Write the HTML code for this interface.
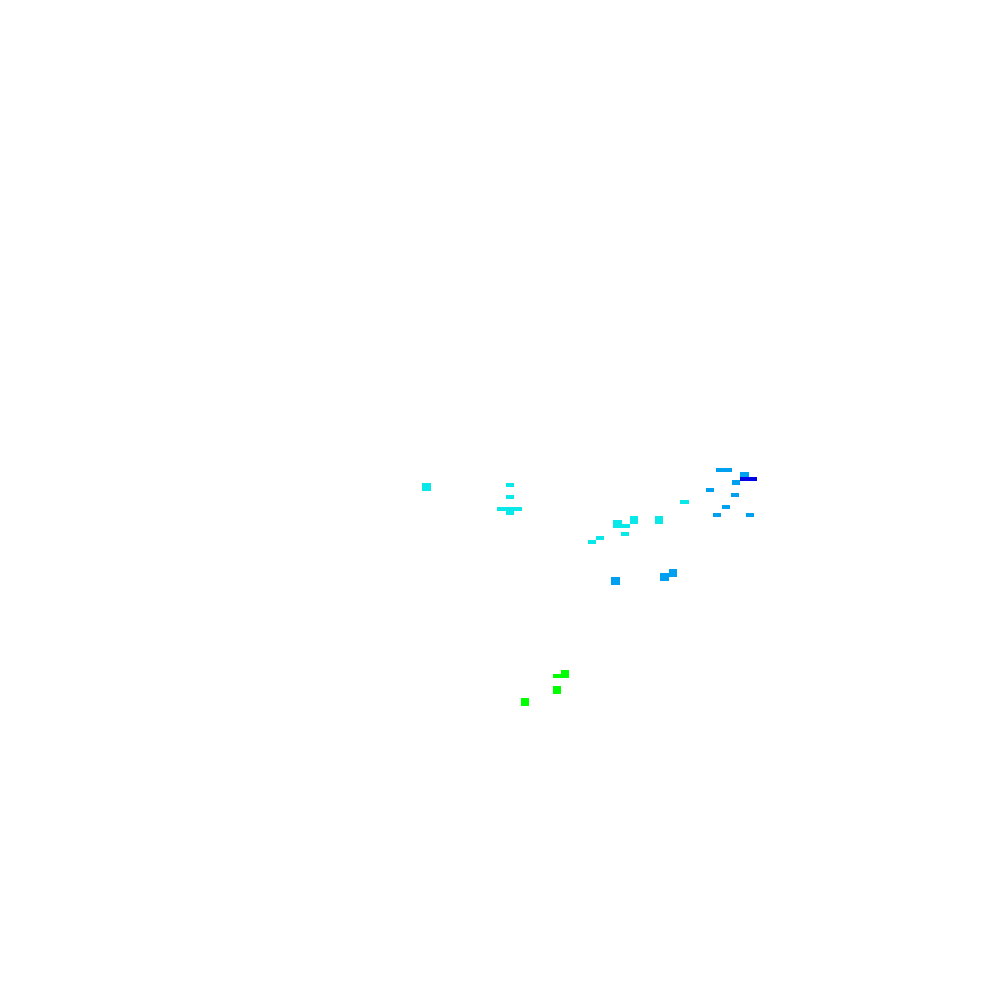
<!DOCTYPE html>
<html><head><style>
html,body{margin:0;padding:0;background:#fff;width:1000px;height:1000px;overflow:hidden}
div{position:absolute}
.c{background:#08e8e8}.b{background:#00a0f0}.d{background:#0000e8}.g{background:#00ff00}
</style></head><body>
<div class="c" style="left:422px;top:483px;width:9px;height:8px"></div>
<div class="c" style="left:506px;top:483px;width:8px;height:4px"></div>
<div class="c" style="left:506px;top:495px;width:8px;height:4px"></div>
<div class="c" style="left:497px;top:507px;width:25px;height:4px"></div>
<div class="c" style="left:506px;top:511px;width:8px;height:4px"></div>
<div class="c" style="left:613px;top:520px;width:9px;height:8px"></div>
<div class="c" style="left:613px;top:524px;width:17px;height:4px"></div>
<div class="c" style="left:630px;top:516px;width:8px;height:8px"></div>
<div class="c" style="left:655px;top:516px;width:8px;height:8px"></div>
<div class="c" style="left:621px;top:532px;width:8px;height:4px"></div>
<div class="c" style="left:596px;top:536px;width:8px;height:4px"></div>
<div class="c" style="left:588px;top:540px;width:8px;height:4px"></div>
<div class="c" style="left:680px;top:500px;width:9px;height:4px"></div>
<div class="b" style="left:716px;top:468px;width:16px;height:4px"></div>
<div class="b" style="left:740px;top:472px;width:9px;height:5px"></div>
<div class="b" style="left:732px;top:480px;width:8px;height:5px"></div>
<div class="b" style="left:706px;top:488px;width:8px;height:4px"></div>
<div class="b" style="left:731px;top:493px;width:8px;height:4px"></div>
<div class="b" style="left:722px;top:505px;width:8px;height:4px"></div>
<div class="b" style="left:713px;top:513px;width:8px;height:4px"></div>
<div class="b" style="left:746px;top:513px;width:8px;height:4px"></div>
<div class="b" style="left:611px;top:577px;width:9px;height:8px"></div>
<div class="b" style="left:660px;top:573px;width:9px;height:8px"></div>
<div class="b" style="left:669px;top:569px;width:8px;height:8px"></div>
<div class="d" style="left:740px;top:477px;width:17px;height:4px"></div>
<div class="g" style="left:561px;top:670px;width:8px;height:8px"></div>
<div class="g" style="left:553px;top:674px;width:16px;height:4px"></div>
<div class="g" style="left:553px;top:686px;width:8px;height:8px"></div>
<div class="g" style="left:521px;top:698px;width:8px;height:8px"></div>
</body></html>
